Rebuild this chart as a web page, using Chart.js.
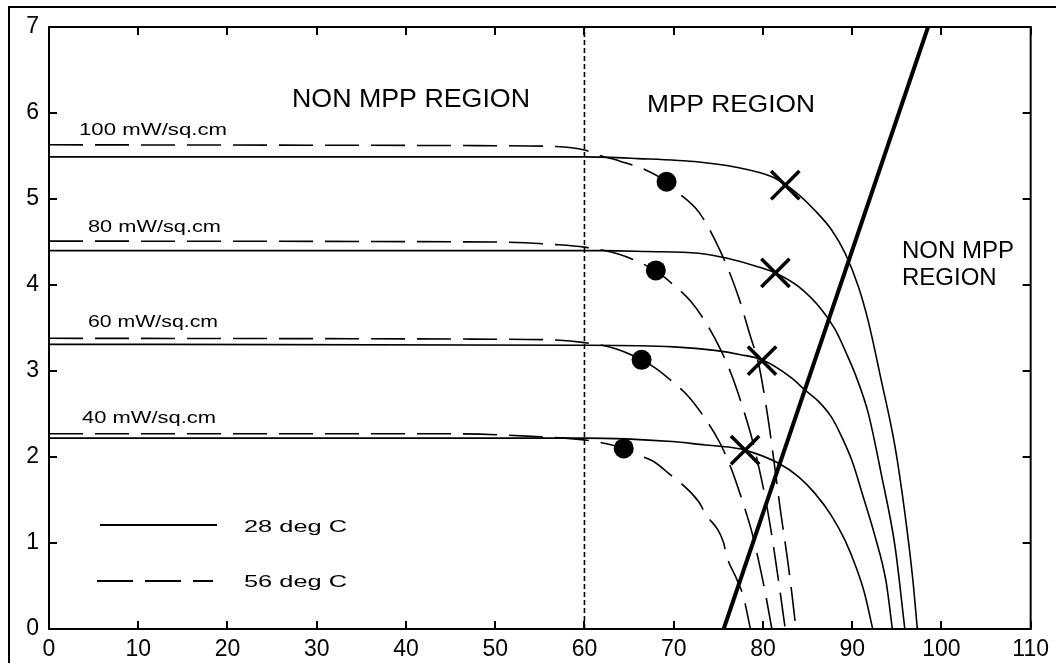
<!DOCTYPE html>
<html>
<head>
<meta charset="utf-8">
<script src="https://cdn.jsdelivr.net/npm/chart.js@4.4.1/dist/chart.umd.min.js"></script>
<style>
  html, body { margin: 0; padding: 0; background: #fff; }
  #wrap { width: 1056px; height: 663px; }
</style>
</head>
<body>
<div id="wrap"><canvas id="ivChart" width="1056" height="663"></canvas></div>
<script>
// axis ticks
const xTicks = [0, 10, 20, 30, 40, 50, 60, 70, 80, 90, 100, 110];
const yTicks = [0, 1, 2, 3, 4, 5, 6, 7];

// 28 deg C curves (voltage, current)
const solid100 = [[0,5.49],[60,5.49],[66,5.47],[72.8,5.43],[77,5.37],[81,5.26],[82.5,5.17],[84,5.05],[85.8,4.87],[87.7,4.64],[89.2,4.37],[90.7,3.98],[91.8,3.58],[93.2,2.92],[94.8,2.12],[95.9,1.35],[96.8,0.57],[97.3,0]];
const solid80 = [[0,4.40],[62,4.40],[67,4.39],[72.8,4.37],[76,4.31],[79.5,4.21],[81.4,4.14],[84,3.98],[86.6,3.71],[88.1,3.48],[89.5,3.17],[90.5,2.92],[91.8,2.51],[93.3,1.78],[94.8,0.96],[95.9,0]];
const solid60 = [[0,3.31],[60,3.30],[70,3.28],[74.6,3.24],[77.5,3.19],[79.9,3.13],[83.2,2.92],[84.7,2.78],[86.2,2.65],[87.7,2.46],[88.8,2.24],[90,1.95],[91.2,1.55],[92.5,1.10],[93.8,0.55],[94.5,0]];
const solid40 = [[0,2.22],[60,2.22],[69.8,2.18],[73.5,2.14],[76.5,2.11],[78,2.08],[81.7,1.93],[84,1.77],[85.8,1.58],[87.6,1.33],[89.2,1.03],[90.5,0.70],[91.4,0.41],[92.3,0]];

// 56 deg C curves
const dashed100 = [[0,5.63],[50,5.62],[56.8,5.61],[60,5.57],[61.6,5.51],[64,5.44],[66.8,5.34],[69.2,5.20],[70.2,5.10],[72.8,4.85],[75.2,4.40],[77.2,3.88],[78.6,3.40],[79.5,3.09],[80.6,2.43],[81.3,1.90],[82,1.35],[82.7,0.85],[83.2,0.45],[83.7,0]];
const dashed80 = [[0,4.51],[50,4.50],[56.8,4.47],[60,4.44],[63.8,4.36],[67.9,4.17],[70,4.00],[72,3.80],[73.5,3.58],[75.2,3.26],[76.5,2.95],[77.6,2.62],[78.6,2.28],[79.5,1.90],[80.4,1.45],[81.2,0.95],[81.9,0.45],[82.5,0]];
const dashed60 = [[0,3.38],[50,3.37],[56.8,3.36],[60,3.33],[63.5,3.26],[66.4,3.13],[68,3.03],[69.8,2.88],[71.5,2.72],[73.3,2.48],[75.2,2.16],[76.5,1.85],[77.6,1.52],[78.7,1.15],[79.5,0.80],[80.3,0.40],[81,0]];
const dashed40 = [[0,2.27],[45,2.27],[54.1,2.24],[61.2,2.18],[64.4,2.10],[66.1,2.02],[67.7,1.95],[69.2,1.83],[72.8,1.48],[73.5,1.35],[75.6,1.00],[75.9,0.86],[77.1,0.57],[77.8,0.38],[78.6,0]];

// operating points
const dotPoints = [[69.2,5.20],[68.0,4.17],[66.4,3.13],[64.4,2.10]];
const crossPoints = [[82.5,5.16],[81.4,4.14],[79.9,3.12],[78.0,2.08]];

// load line and MPP boundary
const loadLine = [[75.6,0],[98.5,7]];
const boundary = [[60,0],[60,7]];

const FONT = '"Liberation Sans", Arial, sans-serif';
const xy = pts => pts.map(p => ({x: p[0], y: p[1]}));

function curve(pts, dashed) {
  return {
    data: xy(pts),
    borderColor: '#000',
    borderWidth: 1.6,
    borderDash: dashed ? [34, 12] : [],
    pointRadius: 0,
    cubicInterpolationMode: 'monotone',
    fill: false
  };
}

// text stretched sideways to the width it has in the picture
function wideText(c, text, x, y, size, width) {
  c.font = size + 'px ' + FONT;
  const w = c.measureText(text).width;
  c.save();
  c.translate(x, y);
  c.scale(width ? width / w : 1, 1);
  c.fillText(text, 0, 0);
  c.restore();
}

// inward ticks, box and outer frame
const frameTicks = {
  id: 'frameTicks',
  beforeDraw(chart) {
    const c = chart.ctx;
    c.save();
    c.strokeStyle = '#000';
    c.lineWidth = 2;
    c.beginPath();
    c.moveTo(9, 663);
    c.lineTo(9, 7);
    c.lineTo(1056, 7);
    c.stroke();
    c.restore();
  },
  afterDatasetsDraw(chart) {
    const {ctx: c, chartArea: a, scales: {x, y}} = chart;
    c.save();
    c.strokeStyle = '#000';
    c.lineWidth = 2;
    c.strokeRect(a.left, a.top, a.right - a.left, a.bottom - a.top);
    c.beginPath();
    xTicks.forEach(v => {
      const px = Math.round(x.getPixelForValue(v));
      c.moveTo(px, a.bottom); c.lineTo(px, a.bottom - 8);
      c.moveTo(px, a.top); c.lineTo(px, a.top + 8);
    });
    yTicks.forEach(v => {
      const py = Math.round(y.getPixelForValue(v));
      c.moveTo(a.left, py); c.lineTo(a.left + 8, py);
      c.moveTo(a.right, py); c.lineTo(a.right - 8, py);
    });
    c.stroke();
    c.restore();
  }
};

// region texts, irradiance labels and legend
const annotations = {
  id: 'annotations',
  afterDraw(chart) {
    const c = chart.ctx;
    c.save();
    c.fillStyle = '#000';
    c.textBaseline = 'alphabetic';
    c.textAlign = 'left';

    wideText(c, 'NON MPP REGION', 292, 107, 25, 238);
    wideText(c, 'MPP REGION', 647, 112, 24, 168);
    wideText(c, 'NON MPP', 902, 258, 24);
    wideText(c, 'REGION', 902, 285, 24);

    wideText(c, '100 mW/sq.cm', 79, 135, 16.5, 148);
    wideText(c, '80 mW/sq.cm', 88, 232, 16.5, 133);
    wideText(c, '60 mW/sq.cm', 88, 327, 16.5, 130);
    wideText(c, '40 mW/sq.cm', 82, 423, 16.5, 134);

    wideText(c, '28 deg C', 244, 532, 16.5, 103);
    wideText(c, '56 deg C', 244, 587, 16.5, 103);

    c.strokeStyle = '#000';
    c.lineWidth = 2;
    c.beginPath();
    c.moveTo(100, 525); c.lineTo(217, 525);
    c.stroke();
    c.setLineDash([36, 12]);
    c.beginPath();
    c.moveTo(97, 581); c.lineTo(213, 581);
    c.stroke();
    c.restore();
  }
};

new Chart(document.getElementById('ivChart').getContext('2d'), {
  type: 'line',
  data: {
    datasets: [
      {
        data: xy(dotPoints), showLine: false, pointStyle: 'circle',
        pointRadius: 10, pointBackgroundColor: '#000', pointBorderWidth: 0
      },
      {
        data: xy(crossPoints), showLine: false, pointStyle: 'crossRot',
        pointRadius: 20, pointBorderColor: '#000', pointBorderWidth: 3.5
      },
      {
        data: xy(loadLine), borderColor: '#000', borderWidth: 4, pointRadius: 0
      },
      {
        data: xy(boundary), borderColor: '#000', borderWidth: 1.6,
        borderDash: [5, 3], pointRadius: 0
      },
      curve(solid100, false), curve(solid80, false), curve(solid60, false), curve(solid40, false),
      curve(dashed100, true), curve(dashed80, true), curve(dashed60, true), curve(dashed40, true)
    ]
  },
  options: {
    responsive: false,
    animation: false,
    layout: { padding: { top: 27, right: 23, left: 0, bottom: 0 } },
    plugins: { legend: { display: false }, tooltip: { enabled: false } },
    scales: {
      x: {
        type: 'linear', min: 0, max: 110,
        afterFit: s => { s.height = 34; },
        afterBuildTicks: s => { s.ticks = xTicks.map(v => ({value: v})); },
        grid: { display: false, drawTicks: false },
        border: { display: false },
        ticks: { color: '#000', padding: 7, maxRotation: 0, font: { family: FONT, size: 23 } }
      },
      y: {
        type: 'linear', min: 0, max: 7,
        afterFit: s => { s.width = 49; },
        afterBuildTicks: s => { s.ticks = yTicks.map(v => ({value: v})); },
        grid: { display: false, drawTicks: false },
        border: { display: false },
        ticks: { color: '#000', padding: 10, font: { family: FONT, size: 23 } }
      }
    }
  },
  plugins: [frameTicks, annotations]
});
</script>
</body>
</html>
